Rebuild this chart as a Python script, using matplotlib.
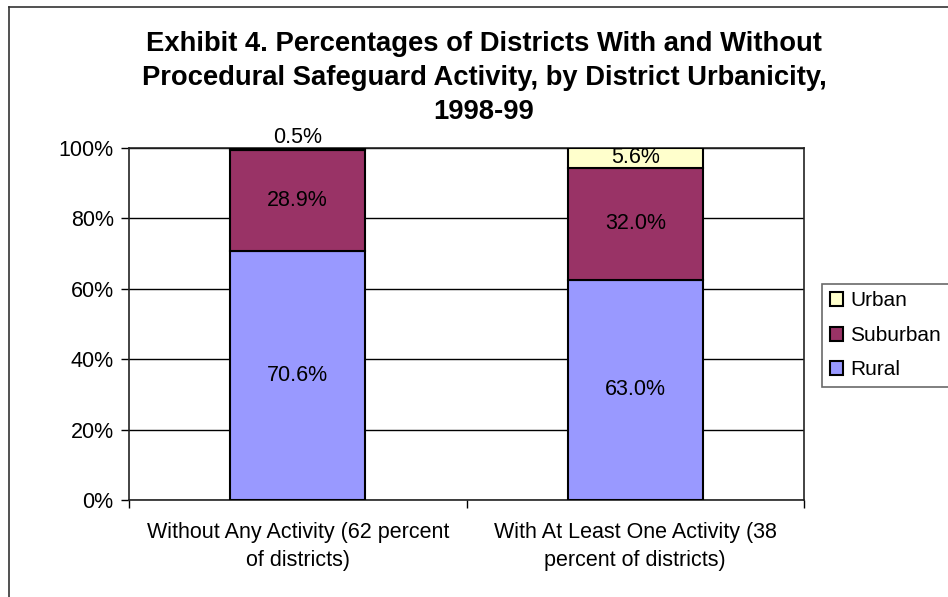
import matplotlib
matplotlib.use("Agg")
import matplotlib.pyplot as plt
import numpy as np
from matplotlib.lines import Line2D

plt.rcParams["font.family"] = ["Liberation Sans", "DejaVu Sans"]

# ── data ────────────────────────────────────────────────────────────────────
categories = [
    "Without Any Activity (62 percent\nof districts)",
    "With At Least One Activity (38\npercent of districts)",
]
series_names = ["Rural", "Suburban", "Urban"]
rural = [70.6, 63.0]
suburban = [28.9, 32.0]
urban = [0.5, 5.6]
y_ticks = [0, 20, 40, 60, 80, 100]

COLORS = {"Rural": "#9999FF", "Suburban": "#993366", "Urban": "#FFFFCC"}
FS = 15.5

W, H = 948, 597
fig = plt.figure(figsize=(W / 100, H / 100), dpi=100)
ax = fig.add_axes([129 / W, 1 - 500 / H, (804 - 129) / W, (500 - 148) / H])

# 100% stacked: normalise each column to its total
values = np.array([rural, suburban, urban], dtype=float)
shares = values / values.sum(axis=0) * 100
x = np.arange(len(categories))
bottom = np.zeros(len(categories))

for name, raw, share in zip(series_names, values, shares):
    ax.bar(x, share, 0.4, bottom=bottom, color=COLORS[name],
           edgecolor="black", linewidth=1.5, label=name, zorder=3)
    for xi, b, s, v in zip(x, bottom, share, raw):
        if s < 2:
            ax.text(xi, b + s, f"{v:.1f}%", ha="center", va="bottom",
                    fontsize=FS, zorder=4)
        else:
            ax.text(xi, b + s / 2, f"{v:.1f}%", ha="center", va="center",
                    fontsize=FS, zorder=4)
    bottom += share

# ── axes styling ────────────────────────────────────────────────────────────
ax.set_xlim(-0.5, len(categories) - 0.5)
ax.set_ylim(0, 100)
ax.set_yticks(y_ticks)
ax.set_yticklabels([f"{t}%" for t in y_ticks], fontsize=FS)
ax.yaxis.grid(True, color="black", linewidth=1, zorder=0)
ax.set_axisbelow(True)
ax.tick_params(axis="y", direction="out", length=6, width=1, pad=5)

ax.set_xticks(x)
ax.set_xticklabels(categories, fontsize=FS, linespacing=1.45)
ax.tick_params(axis="x", which="major", length=0, pad=16)
ax.set_xticks(np.arange(len(categories) + 1) - 0.5, minor=True)
ax.tick_params(axis="x", which="minor", direction="out", length=6, width=1)

for s in ax.spines.values():
    s.set_color("#222222")
    s.set_linewidth(1.2)

# ── legend ──────────────────────────────────────────────────────────────────
handles, labels = ax.get_legend_handles_labels()
leg = fig.legend(handles[::-1], labels[::-1], loc="upper left",
                 bbox_to_anchor=(822 / W, 1 - 284 / H), fontsize=15,
                 frameon=True, fancybox=False, shadow=False,
                 handlelength=0.65, handleheight=0.65, handletextpad=0.35,
                 labelspacing=0.74, borderpad=0.36, borderaxespad=0)
leg.get_frame().set_edgecolor("#444444")
leg.get_frame().set_linewidth(1.2)

# ── title ───────────────────────────────────────────────────────────────────
fig.text(484 / W, 1 - 78 / H,
         "Exhibit 4. Percentages of Districts With and Without\n"
         "Procedural Safeguard Activity, by District Urbanicity,\n"
         "1998-99",
         ha="center", va="center", fontsize=19.7, fontweight="bold",
         linespacing=1.38)

# outer chart-area border (left and top edges visible)
fig.add_artist(Line2D([9 / W, 9 / W], [0, 1 - 7 / H], transform=fig.transFigure,
                      color="#333333", linewidth=1.2))
fig.add_artist(Line2D([9 / W, 1], [1 - 7 / H, 1 - 7 / H], transform=fig.transFigure,
                      color="#333333", linewidth=1.2))

fig.savefig("out.png", dpi=100)
